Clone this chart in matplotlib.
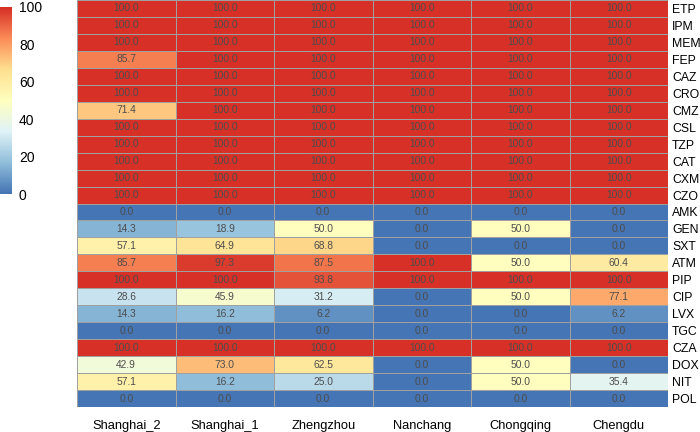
import numpy as np
import matplotlib
matplotlib.use("Agg")
import matplotlib.pyplot as plt
from matplotlib.colors import LinearSegmentedColormap

sites = ["Shanghai_2", "Shanghai_1", "Zhengzhou", "Nanchang", "Chongqing", "Chengdu"]
drugs = ["ETP", "IPM", "MEM", "FEP", "CAZ", "CRO", "CMZ", "CSL", "TZP", "CAT",
         "CXM", "CZO", "AMK", "GEN", "SXT", "ATM", "PIP", "CIP", "LVX", "TGC",
         "CZA", "DOX", "NIT", "POL"]

values = [
    [100.0, 100.0, 100.0, 100.0, 100.0, 100.0],  # ETP
    [100.0, 100.0, 100.0, 100.0, 100.0, 100.0],  # IPM
    [100.0, 100.0, 100.0, 100.0, 100.0, 100.0],  # MEM
    [85.7, 100.0, 100.0, 100.0, 100.0, 100.0],   # FEP
    [100.0, 100.0, 100.0, 100.0, 100.0, 100.0],  # CAZ
    [100.0, 100.0, 100.0, 100.0, 100.0, 100.0],  # CRO
    [71.4, 100.0, 100.0, 100.0, 100.0, 100.0],   # CMZ
    [100.0, 100.0, 100.0, 100.0, 100.0, 100.0],  # CSL
    [100.0, 100.0, 100.0, 100.0, 100.0, 100.0],  # TZP
    [100.0, 100.0, 100.0, 100.0, 100.0, 100.0],  # CAT
    [100.0, 100.0, 100.0, 100.0, 100.0, 100.0],  # CXM
    [100.0, 100.0, 100.0, 100.0, 100.0, 100.0],  # CZO
    [0.0, 0.0, 0.0, 0.0, 0.0, 0.0],              # AMK
    [14.3, 18.9, 50.0, 0.0, 50.0, 0.0],          # GEN
    [57.1, 64.9, 68.8, 0.0, 0.0, 0.0],           # SXT
    [85.7, 97.3, 87.5, 100.0, 50.0, 60.4],       # ATM
    [100.0, 100.0, 93.8, 100.0, 100.0, 100.0],   # PIP
    [28.6, 45.9, 31.2, 0.0, 50.0, 77.1],         # CIP
    [14.3, 16.2, 6.2, 0.0, 0.0, 6.2],            # LVX
    [0.0, 0.0, 0.0, 0.0, 0.0, 0.0],              # TGC
    [100.0, 100.0, 100.0, 100.0, 100.0, 100.0],  # CZA
    [42.9, 73.0, 62.5, 0.0, 50.0, 0.0],          # DOX
    [57.1, 16.2, 25.0, 0.0, 50.0, 35.4],         # NIT
    [0.0, 0.0, 0.0, 0.0, 0.0, 0.0],              # POL
]
legend_ticks = [0, 20, 40, 60, 80, 100]

# pheatmap default palette (reversed RdYlBu, 7 colours -> 100 steps)
pal = ["#4575B4", "#91BFDB", "#E0F3F8", "#FFFFBF", "#FEE090", "#FC8D59", "#D73027"]
cmap = LinearSegmentedColormap.from_list("ph", pal, N=100)

data = np.array(values)
W, H = 700, 432
fig = plt.figure(figsize=(W / 100, H / 100), dpi=100)

ax = fig.add_axes([77 / W, (H - 407) / H, (668 - 77) / W, 407 / H])
ax.pcolormesh(data, cmap=cmap, vmin=0, vmax=100, edgecolors="#a0a0a0", linewidth=0.7)
ax.set_xlim(0, len(sites))
ax.set_ylim(len(drugs), 0)
for i in range(len(drugs)):
    for j in range(len(sites)):
        ax.text(j + 0.5, i + 0.5, f"{data[i, j]:.1f}", ha="center", va="center",
                fontsize=7.4, color="#4d4d4d", family="Liberation Sans")

ax.set_xticks(np.arange(len(sites)) + 0.5)
ax.set_xticklabels(sites, fontsize=9.3, family="Liberation Sans")
ax.set_yticks(np.arange(len(drugs)) + 0.5)
ax.set_yticklabels(drugs, fontsize=8.8, family="Liberation Sans")
ax.yaxis.tick_right()
ax.tick_params(axis="y", length=0, pad=3)
ax.tick_params(axis="x", length=0, pad=9)
for s in ax.spines.values():
    s.set_visible(False)

# colour legend
cax = fig.add_axes([0, (H - 194) / H, 12 / W, 187 / H])
grad = np.linspace(0, 100, 100).reshape(-1, 1)
cax.imshow(grad, cmap=cmap, aspect="auto", origin="lower", extent=[0, 1, 0, 100])
cax.set_xticks([])
cax.yaxis.tick_right()
cax.set_yticks(legend_ticks)
cax.set_yticklabels([str(t) for t in legend_ticks], fontsize=10, family="Liberation Sans")
cax.tick_params(length=0, pad=5)
for s in cax.spines.values():
    s.set_visible(False)

fig.savefig("out.png", dpi=100)
